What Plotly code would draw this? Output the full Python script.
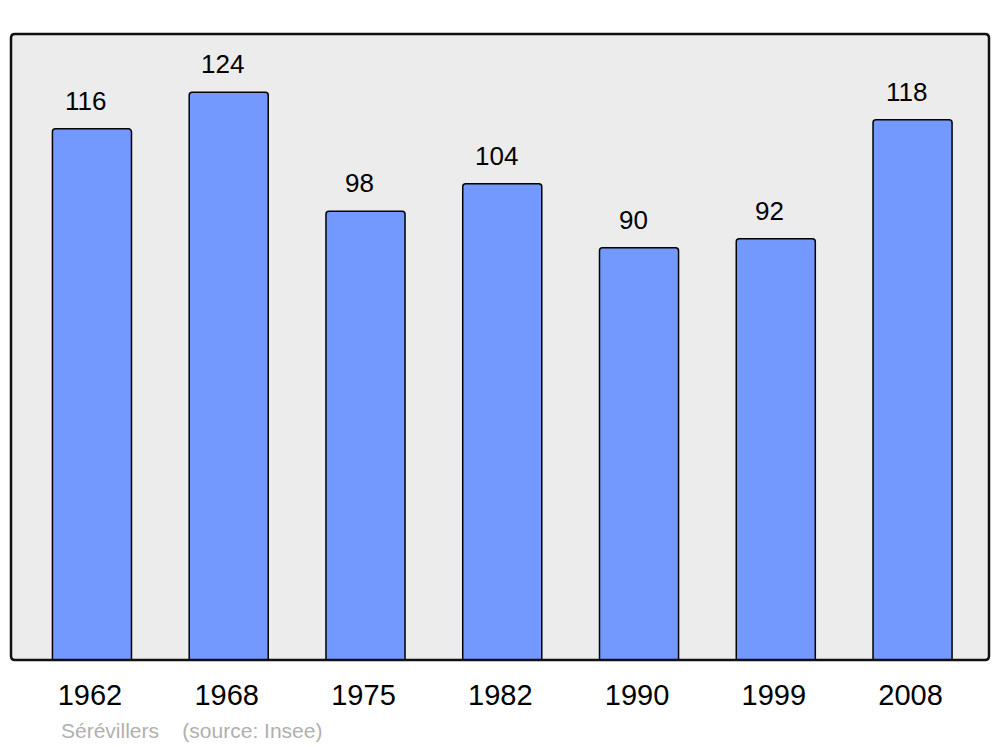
import plotly.graph_objects as go

years = ["1962", "1968", "1975", "1982", "1990", "1999", "2008"]
population = [116, 124, 98, 104, 90, 92, 118]
commune = "Sérévillers"
source = "(source: Insee)"

# page body has an 8px margin; compensate so plot area sits at x 11..989, y 34..660
W, H = 992, 739
L, R, T, B = 3, 11, 26, 87
pw, ph = W - L - R, H - T - B

fig = go.Figure()
fig.add_trace(go.Bar(
    x=years, y=population, width=0.578,
    marker=dict(color="#7399ff", line=dict(color="#000000", width=1.5)),
    hoverinfo="skip",
))

for i, v in enumerate(population):
    fig.add_annotation(x=i, y=v, text=str(v), showarrow=False,
                       xref="x", yref="y", yanchor="middle", yshift=28, xshift=-6,
                       font=dict(family="Liberation Sans, Arial", size=26, color="#000000"))

fig.add_annotation(x=(59 - 11) / pw, y=-(730 - 660) / ph, xref="paper", yref="paper",
                   xanchor="left", yanchor="middle", showarrow=False,
                   text=commune + "&nbsp;&nbsp;&nbsp;&nbsp;" + source,
                   font=dict(family="Liberation Sans, Arial", size=21, color="#b0b0b0"))

# rounded frame
rx, ry = 4 / pw, 4 / ph
path = (f"M {rx},0 L {1-rx},0 Q 1,0 1,{ry} L 1,{1-ry} Q 1,1 {1-rx},1 "
        f"L {rx},1 Q 0,1 0,{1-ry} L 0,{ry} Q 0,0 {rx},0 Z")
fig.add_shape(type="path", path=path, xref="paper", yref="paper",
              line=dict(color="#111111", width=2.5), layer="above")

fig.update_layout(
    width=W, height=H,
    margin=dict(l=L, r=R, t=T, b=B),
    paper_bgcolor="#ffffff", plot_bgcolor="#ececec",
    showlegend=False, barcornerradius=3,
    xaxis=dict(type="category", range=[-0.592, 6.559], showgrid=False, zeroline=False,
               showline=False, ticks="",
               tickfont=dict(family="Liberation Sans, Arial", size=29, color="#000000"),
               ticklabelstandoff=15, ticklabelshift=-2),
    yaxis=dict(range=[0, 136.7], showgrid=False, zeroline=False, showline=False,
               showticklabels=False, ticks=""),
)

fig.write_html("out.html")
